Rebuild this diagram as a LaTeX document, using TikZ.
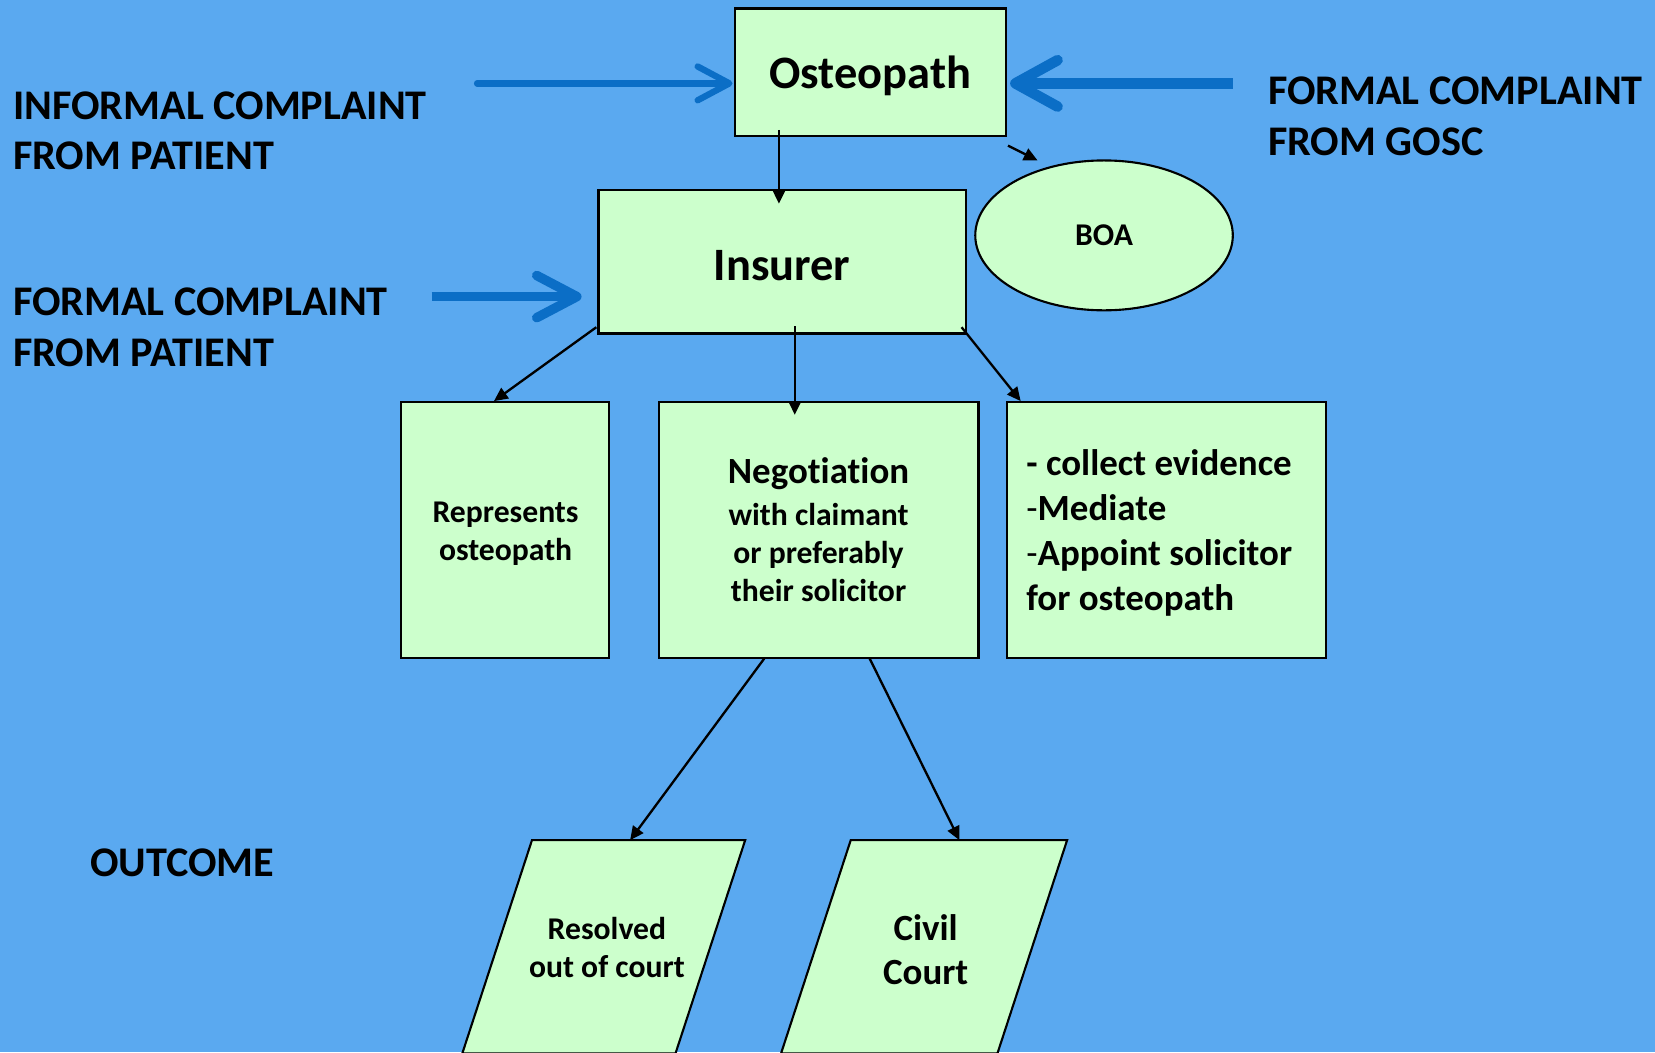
\documentclass[tikz,border=0pt]{standalone}
\usepackage{fontspec}
\setmainfont{Carlito}[Ligatures=NoCommon]
\usetikzlibrary{arrows.meta,shapes.geometric,calc}
\definecolor{bgblue}{HTML}{5AA9F0}
\definecolor{boxgreen}{HTML}{CCFFCC}
\definecolor{arrowblue}{HTML}{0B6EC6}

\begin{document}
\begin{tikzpicture}[x=0.5pt,y=-0.5pt,
  box/.style={draw=black,line width=1pt,fill=boxgreen,inner sep=0pt,outer sep=0pt,align=center},
  flow/.style={line width=1.1pt,-{Triangle[length=6.5pt,width=6pt]}},
  sidetext/.style={anchor=west,inner sep=0pt,align=left,font=\bfseries\fontsize{20}{24}\selectfont},
  plain/.style={inner sep=0pt,align=center},
  feed/.style={draw=arrowblue,line cap=round}
]
% canvas
\fill[bgblue] (0,0) rectangle (1568,997);
\useasboundingbox (0,0) rectangle (1568,997);

% main boxes
\node[box,minimum width=128.5pt,minimum height=60.5pt,text depth=0pt,font=\bfseries\fontsize{22}{26}\selectfont] (ost) at (824.5,68.5) {Osteopath};
\node[box,minimum width=174pt,minimum height=68pt,text height=18pt,text depth=0pt,font=\bfseries\fontsize{22}{26}\selectfont] (ins) at (741,248) {Insurer};
\node[box,ellipse,minimum width=122pt,minimum height=71pt,font=\bfseries\fontsize{15}{18}\selectfont] (boa) at (1046,223) {BOA};

\node[box,minimum width=98.5pt,minimum height=121pt] (rep) at (478.5,502) {};
\node[plain,font=\bfseries\fontsize{15}{18}\selectfont] (reptext) at (479,505.5) {Represents\\ osteopath};

\node[box,minimum width=151.5pt,minimum height=121pt,font=\bfseries\fontsize{15}{18}\selectfont] (neg) at (775.5,502)
  {{\fontsize{17.5}{18}\selectfont Negotiation}\\[2pt] with claimant\\ or preferably\\ their solicitor};

\node[box,minimum width=151pt,minimum height=121pt] (act) at (1105,502) {};
\node[anchor=west,inner sep=0pt,align=left,font=\bfseries\fontsize{17.5}{21.3}\selectfont] (acttext) at (972,505)
  {- collect evidence\\ \textmd{-}Mediate\\ \textmd{-}Appoint solicitor\\ for osteopath};

% outcomes
\coordinate (resT) at (597,796);
\coordinate (civT) at (909,796);
\draw[box] (504,796) -- (706,796) -- (640,998) -- (438,998) -- cycle;
\draw[box] (806,796) -- (1011,796) -- (945,998) -- (740,998) -- cycle;
\node[plain,font=\bfseries\fontsize{15}{18}\selectfont] (res) at (575,898) {Resolved\\ out of court};
\node[plain,font=\bfseries\fontsize{17.5}{21}\selectfont] (civ) at (877,899.5) {Civil\\ Court};

% side labels
\node[sidetext] (inf) at (12,124) {INFORMAL COMPLAINT\\ FROM PATIENT};
\node[sidetext] (fpt) at (12,310) {FORMAL COMPLAINT\\ FROM PATIENT};
\node[sidetext] (fgo) at (1201,110) {FORMAL COMPLAINT\\ FROM GOSC};
\node[sidetext] (out) at (85,817) {OUTCOME};

% incoming complaints
\coordinate (infstart) at (452,79);
\coordinate (gostart) at (1168,79);
\coordinate (fptstart) at (409,281);
\draw[feed,line width=3pt,-{Straight Barb[round,length=15pt,width=16pt]}] (infstart) -- ($(ost.west)+(-2,10.5)$);
\draw[feed,line width=5pt,line cap=butt,-{Straight Barb[round,length=20pt,width=22pt]}] (gostart) -- ($(ost.east)+(4,10.5)$);
\draw[feed,line width=4.5pt,line cap=butt,-{Straight Barb[round,length=19pt,width=20pt]}] (fptstart) -- ($(ins.west)+(-16,33)$);

% flow connectors
\draw[flow] ($(ost.south)+(-86.5,-6)$) -- ($(ins.north)+(-3,13)$);
\draw[flow] ($(ost.south east)+(2,9)$) -- ($(boa.center)+(-63,-71)$);
\draw[flow] ($(ins.south west)+(-2,-6)$) -- ($(rep.north)+(-10.5,-1)$);
\draw[flow] ($(ins.south)+(12,-7)$) -- ($(neg.north)+(-22.5,12)$);
\draw[flow] ($(ins.south east)+(-4,-6)$) -- ($(act.north west)+(13,-1)$);
\draw[flow] ($(neg.south)+(-51.5,1)$) -- (resT);
\draw[flow] ($(neg.south)+(48.5,1)$) -- (civT);
\end{tikzpicture}
\end{document}
